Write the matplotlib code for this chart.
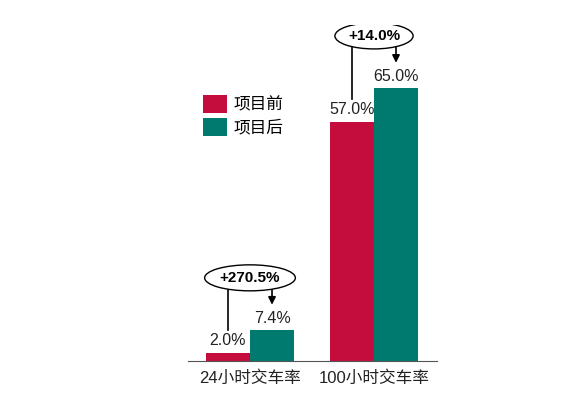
import matplotlib
matplotlib.use("Agg")
import matplotlib.pyplot as plt
from matplotlib.patches import Ellipse
from matplotlib.transforms import ScaledTranslation
import numpy as np

plt.rcParams['font.family'] = ['Liberation Sans', 'Noto Sans CJK SC', 'DejaVu Sans']

categories = ['24小时交车率', '100小时交车率']
series_names = ['项目前', '项目后']
before = [2.0, 57.0]
after = [7.4, 65.0]
changes = ['+270.5%', '+14.0%']

C_RED = '#C40D3C'
C_TEAL = '#007A6E'
C_TEXT = '#222222'

fig = plt.figure(figsize=(5.8, 4.0), dpi=100)
ax = fig.add_axes([188 / 580, 39 / 400, 249 / 580, 336 / 400])

x = np.arange(len(categories))
w = 0.355
b1 = ax.bar(x - w / 2, before, w, color=C_RED, label=series_names[0])
b2 = ax.bar(x + w / 2, after, w, color=C_TEAL, label=series_names[1])

ax.set_xlim(-0.5, 1.508)
ax.set_ylim(0, 80)

for bars, vals in [(b1, before), (b2, after)]:
    for rect, v in zip(bars, vals):
        ax.annotate(f'{v:.1f}%', xy=(rect.get_x() + rect.get_width() / 2, v),
                    xytext=(0, 3), textcoords='offset points',
                    ha='center', va='bottom', fontsize=11.5, color=C_TEXT)

# change bubbles: ellipse + connector line + arrow
renderer = fig.canvas.get_renderer()
for i, (b, a, lab) in enumerate(zip(before, after, changes)):
    cy = max(b, a) + 12.4
    t = ax.text(i, cy, lab, ha='center', va='center', fontsize=11, fontweight='bold',
                color='black', zorder=6)
    tw = t.get_window_extent(renderer).width / fig.dpi
    trans = fig.dpi_scale_trans + ScaledTranslation(i, cy, ax.transData)
    ax.add_patch(Ellipse((0, 0), tw * 1.5, 0.26, transform=trans,
                         facecolor='white', edgecolor='black', linewidth=1, zorder=5))
    ax.plot([i - w / 2, i - w / 2], [cy, b + 5.5], color='black', linewidth=1.2, zorder=3)
    ax.annotate('', xy=(i + w / 2, a + 6.0), xytext=(i + w / 2, cy),
                arrowprops=dict(arrowstyle='-|>', color='black', linewidth=1.2,
                                mutation_scale=11, shrinkA=0, shrinkB=0), zorder=3)

for side in ['top', 'right', 'left']:
    ax.spines[side].set_visible(False)
ax.spines['bottom'].set_color('#555555')
ax.set_yticks([])
ax.set_xticks(x)
ax.set_xticklabels(categories, fontsize=12, color=C_TEXT)
ax.tick_params(axis='x', length=0, pad=7)

fig.legend(handles=[b1, b2], labels=series_names, loc='upper left',
           bbox_to_anchor=(203 / 580, 1 - 95 / 400), frameon=False, fontsize=12,
           handlelength=1.45, handleheight=1.25, handletextpad=0.4, labelspacing=0.35,
           borderpad=0.0, borderaxespad=0.0)

fig.savefig('out.png', dpi=100)
